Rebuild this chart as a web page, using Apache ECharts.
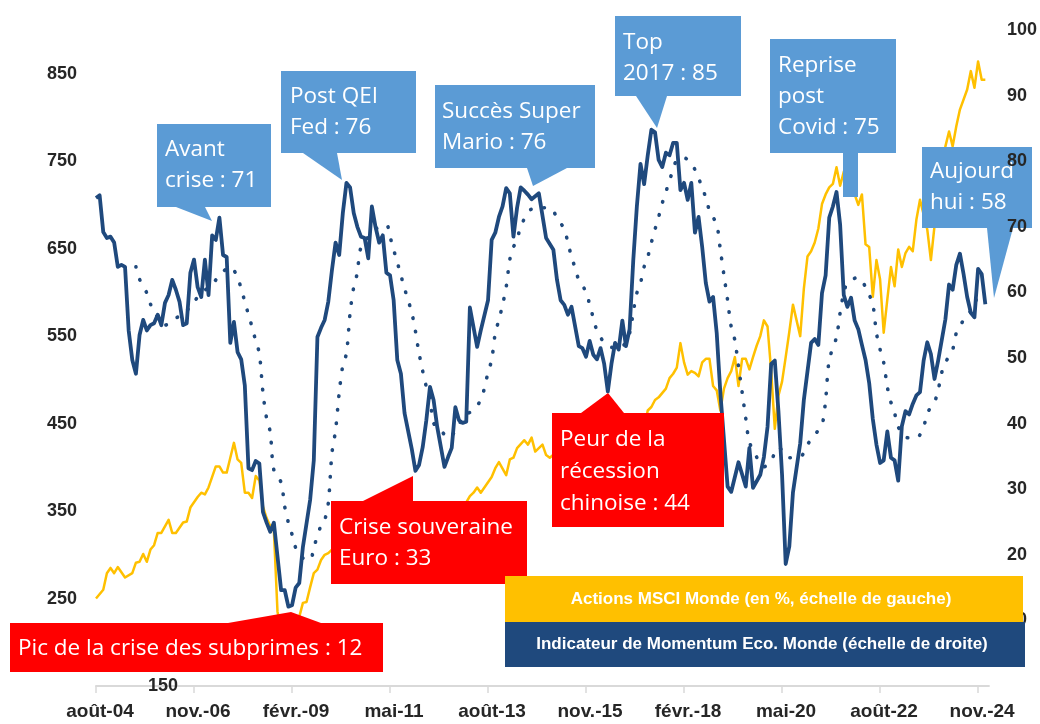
<!DOCTYPE html>
<html>
<head>
<meta charset="utf-8">
<script src="https://cdn.jsdelivr.net/npm/echarts@6/dist/echarts.min.js"></script>
<style>
  html, body { margin: 0; padding: 0; background: #ffffff; }
  #chart { width: 1040px; height: 724px; }
</style>
</head>
<body>
<div id="chart"></div>
<script>
// Months run from août-04 (index 0) to févr.-25 (index 246)
const monthNames = ['janv.', 'févr.', 'mars', 'avr.', 'mai', 'juin', 'juil.', 'août', 'sept.', 'oct.', 'nov.', 'déc.'];
const startYear = 2004;
const startMonth = 7;
const monthCount = 247;

// Tick labels
const leftTickLabels = [250, 350, 450, 550, 650, 750, 850];
const leftBottomLabels = [150];
const rightTickLabels = [10, 20, 30, 40, 50, 60, 70, 80, 90, 100];

// [month index, value] - Actions MSCI Monde (left scale)
const msciWorld = [
  [0, 250], [2, 260], [3, 279], [4, 285], [5, 279], [6, 286], [8, 274], [10, 279], [11, 291], [12, 292],
  [13, 301], [14, 292], [15, 306], [16, 311], [17, 325], [18, 325], [20, 340], [21, 325], [22, 325], [24, 337],
  [25, 338], [26, 354], [28, 366], [29, 371], [30, 369], [31, 377], [32, 389], [33, 401], [34, 401], [35, 394],
  [36, 394], [37, 411], [38, 428], [39, 409], [40, 405], [41, 371], [42, 371], [43, 365], [44, 390], [45, 385],
  [46, 355], [47, 342], [48, 333], [49, 328], [50, 235], [51, 215], [52, 212], [53, 200], [54, 192], [55, 205],
  [56, 229], [57, 245], [58, 246], [59, 263], [60, 279], [61, 283], [62, 294], [63, 300], [64, 302], [66, 310],
  [68, 318], [70, 296], [72, 305], [74, 322], [76, 335], [78, 330], [80, 320], [82, 290], [84, 285], [86, 300],
  [88, 310], [90, 322], [92, 330], [94, 312], [96, 330], [98, 338], [100, 350], [102, 360], [103, 367], [104, 371],
  [105, 377], [106, 371], [107, 377], [109, 389], [110, 399], [111, 406], [113, 391], [114, 409], [115, 411], [116, 422],
  [118, 431], [119, 426], [120, 434], [121, 418], [123, 426], [124, 414], [125, 411], [127, 418], [129, 420], [131, 405],
  [133, 385], [135, 400], [137, 380], [139, 372], [141, 392], [143, 395], [145, 390], [147, 402], [149, 420], [151, 445],
  [152, 465], [153, 469], [154, 477], [155, 480], [157, 490], [158, 502], [159, 507], [160, 514], [161, 542], [162, 520],
  [163, 506], [164, 510], [165, 508], [166, 504], [167, 520], [168, 524], [169, 524], [170, 493], [171, 488], [172, 465],
  [173, 490], [174, 502], [175, 510], [176, 526], [177, 493], [178, 524], [179, 524], [180, 512], [181, 526], [182, 539],
  [183, 550], [184, 568], [185, 561], [186, 510], [187, 444], [188, 482], [189, 498], [190, 526], [191, 555], [192, 586],
  [193, 568], [194, 550], [195, 604], [196, 641], [197, 647], [198, 657], [199, 673], [200, 701], [201, 712], [202, 720],
  [203, 724], [204, 743], [205, 722], [206, 738], [207, 745], [208, 740], [209, 712], [210, 700], [211, 712], [212, 655],
  [213, 652], [214, 595], [215, 637], [216, 615], [217, 554], [218, 592], [219, 629], [220, 607], [221, 649], [222, 629],
  [223, 645], [224, 652], [225, 647], [226, 683], [227, 706], [229, 672], [230, 637], [231, 676], [232, 700], [233, 730],
  [234, 767], [235, 784], [236, 767], [237, 790], [238, 809], [240, 832], [241, 853], [242, 834], [243, 864], [244, 843],
  [245, 843]
];

// [month index, value] - Indicateur de Momentum Eco. Monde (right scale)
const momentum = [
  [0, 74.4], [1, 74.8], [2, 69.2], [3, 68.3], [4, 68.5], [5, 67.6], [6, 63.9], [7, 64.2], [8, 63.9], [9, 54.2],
  [10, 49.7], [11, 47.6], [12, 53.5], [13, 55.8], [14, 54.2], [15, 55.0], [16, 55.3], [17, 56.6], [18, 55.0], [19, 58.4],
  [20, 59.6], [21, 61.9], [22, 60.4], [23, 58.6], [24, 55.0], [25, 55.3], [26, 63.0], [27, 65.0], [28, 60.8], [29, 59.3],
  [30, 65.0], [31, 59.6], [32, 68.7], [33, 68.0], [34, 71.4], [35, 65.7], [36, 65.4], [37, 52.3], [38, 55.5], [39, 50.9],
  [40, 49.8], [41, 45.8], [42, 33.2], [43, 32.9], [44, 34.3], [45, 33.9], [46, 26.5], [47, 24.9], [48, 23.5], [49, 24.9],
  [51, 14.6], [52, 14.6], [53, 12.1], [54, 12.3], [55, 15.0], [56, 15.7], [57, 21.2], [59, 28.4], [60, 34.4], [61, 53.2],
  [62, 54.6], [63, 55.8], [64, 58.6], [65, 63.4], [66, 67.6], [67, 65.7], [68, 72.1], [69, 76.7], [70, 76.0], [71, 72.1],
  [72, 70.0], [73, 68.5], [74, 68.3], [75, 65.2], [76, 73.1], [77, 70.0], [78, 67.6], [79, 68.7], [80, 63.0], [81, 62.6],
  [82, 58.8], [83, 49.7], [84, 47.6], [85, 41.6], [87, 36.1], [88, 32.8], [89, 33.7], [90, 36.4], [91, 40.5], [92, 45.6],
  [93, 43.6], [94, 39.5], [96, 33.4], [97, 34.9], [98, 36.3], [99, 42.5], [100, 40.5], [101, 40.1], [102, 40.3], [103, 57.7],
  [105, 51.7], [106, 54.2], [108, 58.8], [109, 68.0], [110, 69.1], [111, 71.5], [112, 73.1], [113, 75.9], [114, 75.1], [115, 68.5],
  [116, 72.9], [117, 76.0], [118, 75.5], [119, 74.9], [120, 74.2], [122, 75.1], [124, 68.3], [126, 66.5], [127, 61.9], [128, 58.8],
  [129, 58.1], [130, 56.6], [131, 57.8], [133, 51.8], [134, 51.5], [135, 50.2], [136, 52.6], [137, 50.5], [138, 49.8], [139, 51.5],
  [140, 49.1], [141, 44.9], [142, 49.1], [143, 52.3], [144, 51.3], [145, 55.7], [146, 51.8], [147, 54.4], [148, 64.8], [149, 73.1],
  [150, 79.6], [151, 76.5], [152, 80.9], [153, 84.8], [154, 84.4], [155, 80.2], [156, 79.1], [157, 81.3], [158, 80.9], [159, 82.8],
  [160, 82.8], [161, 75.6], [162, 76.7], [163, 74.1], [164, 76.7], [165, 69.1], [166, 71.5], [167, 66.9], [168, 61.4], [169, 58.6],
  [170, 59.3], [171, 53.8], [172, 44.7], [174, 30.4], [175, 29.6], [177, 34.1], [179, 30.4], [180, 36.3], [181, 30.2], [183, 32.2],
  [184, 34.9], [185, 39.5], [186, 49.1], [187, 49.6], [188, 41.9], [189, 32.2], [190, 18.6], [191, 21.3], [192, 29.5], [194, 37.0],
  [195, 43.6], [197, 52.3], [198, 52.9], [199, 52.0], [200, 59.9], [201, 62.6], [202, 71.4], [203, 73.1], [204, 75.3], [205, 70.3],
  [206, 59.6], [207, 57.8], [208, 59.2], [209, 55.7], [210, 54.4], [211, 52.0], [212, 49.7], [213, 46.2], [214, 40.7], [215, 36.8],
  [216, 34.0], [217, 34.4], [218, 38.8], [219, 34.8], [220, 34.4], [221, 31.3], [222, 39.6], [223, 41.9], [224, 41.4], [225, 43.0],
  [226, 44.3], [227, 44.8], [228, 49.6], [229, 52.4], [230, 50.6], [231, 46.8], [232, 49.6], [234, 55.9], [235, 61.2], [236, 60.4],
  [237, 64.2], [238, 65.9], [239, 62.8], [240, 59.3], [241, 56.9], [242, 56.2], [243, 63.6], [244, 62.8], [245, 58.2]
];

// [month index, value] - smoothed momentum (dotted)
const momentumAvg = [
  [11, 63.9], [12, 62.0], [14, 59.9], [15, 58.2], [19, 55.0], [22, 56.1], [24, 56.6], [27, 58.6], [29, 59.9], [32, 61.2],
  [34, 62.6], [37, 63.9], [39, 62.3], [40, 60.5], [41, 58.6], [42, 56.6], [43, 54.7], [44, 52.6], [45, 50.7], [46, 44.7],
  [47, 40.8], [48, 38.7], [49, 32.9], [51, 31.0], [52, 27.3], [53, 24.9], [54, 23.1], [55, 21.1], [57, 19.5], [59, 19.2],
  [60, 21.1], [62, 24.5], [63, 25.3], [64, 27.9], [65, 35.5], [66, 39.0], [67, 44.7], [68, 48.9], [69, 50.7], [70, 56.9],
  [71, 60.8], [72, 63.0], [73, 66.8], [77, 69.6], [80, 70.3], [81, 68.5], [82, 66.5], [83, 64.6], [84, 62.6], [85, 60.6],
  [86, 58.8], [87, 56.9], [88, 54.1], [89, 50.7], [91, 45.6], [92, 44.1], [93, 40.1], [95, 39.0], [97, 37.8], [100, 39.8],
  [101, 41.0], [104, 42.1], [106, 43.6], [107, 45.4], [108, 47.8], [109, 49.7], [110, 53.8], [111, 55.8], [112, 58.1], [113, 60.8],
  [114, 65.0], [115, 66.9], [116, 68.0], [117, 70.0], [120, 72.7], [125, 72.9], [127, 71.4], [129, 69.6], [130, 67.6], [131, 65.4],
  [132, 63.7], [133, 61.9], [135, 60.1], [136, 58.1], [137, 56.1], [138, 54.2], [140, 52.4], [143, 51.5], [145, 51.7], [147, 53.8],
  [148, 57.0], [149, 59.9], [150, 61.4], [151, 63.9], [152, 65.4], [153, 67.6], [154, 69.6], [155, 71.5], [156, 73.6], [157, 75.3],
  [158, 77.1], [159, 78.7], [160, 80.2], [162, 80.5], [164, 79.7], [165, 78.7], [167, 76.0], [168, 74.4], [169, 72.5], [171, 70.3],
  [172, 66.5], [173, 62.6], [174, 58.8], [175, 54.7], [176, 52.7], [177, 48.7], [178, 44.8], [179, 40.8], [180, 37.2], [182, 34.9],
  [184, 33.4], [186, 34.4], [188, 36.4], [191, 34.8], [194, 34.9], [196, 36.8], [198, 38.3], [200, 39.8], [201, 43.6], [202, 49.7],
  [204, 53.2], [205, 56.9], [206, 59.9], [207, 61.4], [210, 62.3], [212, 60.8], [214, 58.1], [215, 53.8], [216, 51.3], [217, 49.3],
  [218, 45.6], [219, 43.2], [220, 41.6], [221, 39.5], [223, 37.9], [226, 37.8], [228, 39.5], [229, 41.6], [231, 43.3], [232, 45.1],
  [233, 47.8], [234, 49.3], [236, 51.3], [237, 53.8], [239, 55.8], [240, 56.6], [242, 57.8], [243, 59.9], [244, 59.7]
];

const months = [];
for (let i = 0; i < monthCount; i++) {
  const mo = (startMonth + i) % 12;
  const yr = startYear + Math.floor((startMonth + i) / 12);
  months.push(monthNames[mo] + '-' + String(yr % 100).padStart(2, '0'));
}

const NAVY = '#1f497d';
const GOLD = '#ffc000';
const SKY = '#5b9bd5';
const RED = '#ff0000';
const AXIS_FONT = '"Liberation Sans", Arial, sans-serif';
const NOTE_FONT = '"Open Sans", "Noto Sans", sans-serif';

// Annotation callouts (layout only)
const callouts = [
  { lines: ['Avant', 'crise : 71'], color: SKY, box: [157, 124, 114, 83], pointer: [[176, 207], [212, 221], [205, 207]], textX: 165, baseline: 158 },
  { lines: ['Post QEI', 'Fed : 76'], color: SKY, box: [281, 71, 135, 82], pointer: [[303, 153], [342, 180], [337, 153]], textX: 290, baseline: 105 },
  { lines: ['Succès Super', 'Mario : 76'], color: SKY, box: [435, 85, 160, 83], pointer: [[527, 168], [533, 186], [567, 168]], textX: 442, baseline: 120 },
  { lines: ['Top', '2017 : 85'], color: SKY, box: [615, 16, 126, 80], pointer: [[636, 96], [657, 128], [667, 96]], textX: 623, baseline: 51 },
  { lines: ['Reprise', 'post', 'Covid : 75'], color: SKY, box: [770, 39, 126, 114], pointer: [[843, 153], [843, 197], [858, 197], [858, 153]], textX: 778, baseline: 74 },
  { lines: ['Aujourd', 'hui : 58'], color: SKY, box: [922, 147, 110, 81], pointer: [[987, 228], [994, 298], [1013, 228]], textX: 930, baseline: 180 },
  { lines: ['Pic de la crise des subprimes : 12'], color: RED, box: [10, 623, 373, 49], pointer: [[228, 623], [291, 612], [321, 623]], textX: 18, baseline: 657 },
  { lines: ['Crise souveraine', 'Euro : 33'], color: RED, box: [331, 501, 196, 83], pointer: [[363, 501], [413, 476], [413, 501]], textX: 339, baseline: 536 },
  { lines: ['Peur de la', 'récession', 'chinoise : 44'], color: RED, box: [552, 413, 172, 114], pointer: [[581, 413], [608, 393], [624, 413]], textX: 560, baseline: 448, gap: 32 }
];

const legendItems = [
  { text: 'Actions MSCI Monde (en %, échelle de gauche)', color: GOLD, box: [505, 576, 518, 46] },
  { text: 'Indicateur de Momentum Eco. Monde (échelle de droite)', color: NAVY, box: [505, 622, 520, 45] }
];

function buildGraphics() {
  const els = [];
  callouts.forEach(c => {
    els.push({ type: 'polygon', z: 10, shape: { points: c.pointer }, style: { fill: c.color } });
    els.push({ type: 'rect', z: 10, shape: { x: c.box[0], y: c.box[1], width: c.box[2], height: c.box[3] }, style: { fill: c.color } });
    c.lines.forEach((line, i) => {
      els.push({
        type: 'text', z: 11, x: c.textX, y: c.baseline + i * (c.gap || 31) - 8,
        style: { text: line, fill: '#ffffff', font: '22.5px ' + NOTE_FONT, verticalAlign: 'middle' }
      });
    });
  });
  // legend boxes sit above the right axis labels (they hide the "1" of 10)
  legendItems.forEach(l => {
    els.push({ type: 'rect', z: 40, shape: { x: l.box[0], y: l.box[1], width: l.box[2], height: l.box[3] }, style: { fill: l.color } });
    els.push({
      type: 'text', z: 41, x: l.box[0] + l.box[2] / 2 - 3, y: l.box[1] + l.box[3] / 2,
      style: { text: l.text, fill: '#ffffff', font: 'bold 17px ' + AXIS_FONT, align: 'center', verticalAlign: 'middle' }
    });
  });
  return els;
}

const labelStyle = { color: '#262626', fontWeight: 'bold', fontSize: 18, fontFamily: AXIS_FONT };
const hiddenParts = { axisLine: { show: false }, axisTick: { show: false }, splitLine: { show: false } };

const chart = echarts.init(document.getElementById('chart'), null, { renderer: 'canvas' });
chart.setOption({
  animation: false,
  backgroundColor: '#ffffff',
  grid: { left: 96, width: 894, top: 30, height: 656 },
  xAxis: {
    type: 'category', data: months, boundaryGap: false,
    axisLine: { lineStyle: { color: '#d9d9d9', width: 2 } },
    axisTick: { interval: 26, length: 7, lineStyle: { color: '#d9d9d9', width: 1.5 } },
    axisLabel: { interval: 26, margin: 16, padding: [0, 0, 0, 8], color: '#262626', fontWeight: 'bold', fontSize: 19, fontFamily: AXIS_FONT },
    splitLine: { show: false }
  },
  yAxis: [
    Object.assign({
      type: 'value', position: 'left', min: 150, max: 900, interval: 100, z: 20,
      axisLabel: Object.assign({ margin: 19, formatter: v => leftTickLabels.includes(v) ? String(v) : '' }, labelStyle)
    }, hiddenParts),
    Object.assign({
      type: 'value', position: 'left', min: 150, max: 900, interval: 100, offset: -90, z: 20,
      axisLabel: Object.assign({ margin: 8, formatter: v => leftBottomLabels.includes(v) ? String(v) : '' }, labelStyle)
    }, hiddenParts),
    Object.assign({
      type: 'value', position: 'right', min: 0, max: 100, interval: 10, z: 20,
      axisLabel: Object.assign({ margin: 18, formatter: v => rightTickLabels.includes(v) ? String(v) : '' }, labelStyle)
    }, hiddenParts)
  ],
  series: [
    {
      name: 'Actions MSCI Monde', type: 'line', yAxisIndex: 0, z: 2,
      data: msciWorld, showSymbol: false, lineStyle: { color: GOLD, width: 2.5, join: 'round' }
    },
    {
      name: 'Momentum lissé', type: 'line', yAxisIndex: 2, z: 3,
      data: momentumAvg, showSymbol: false, smooth: 0.3,
      lineStyle: { color: NAVY, width: 3.6, type: [0.5, 13], cap: 'round' }
    },
    {
      name: 'Indicateur de Momentum Eco. Monde', type: 'line', yAxisIndex: 2, z: 4,
      data: momentum, showSymbol: false, lineStyle: { color: NAVY, width: 3.8, join: 'round' }
    }
  ],
  graphic: { elements: buildGraphics() }
});
</script>
</body>
</html>
